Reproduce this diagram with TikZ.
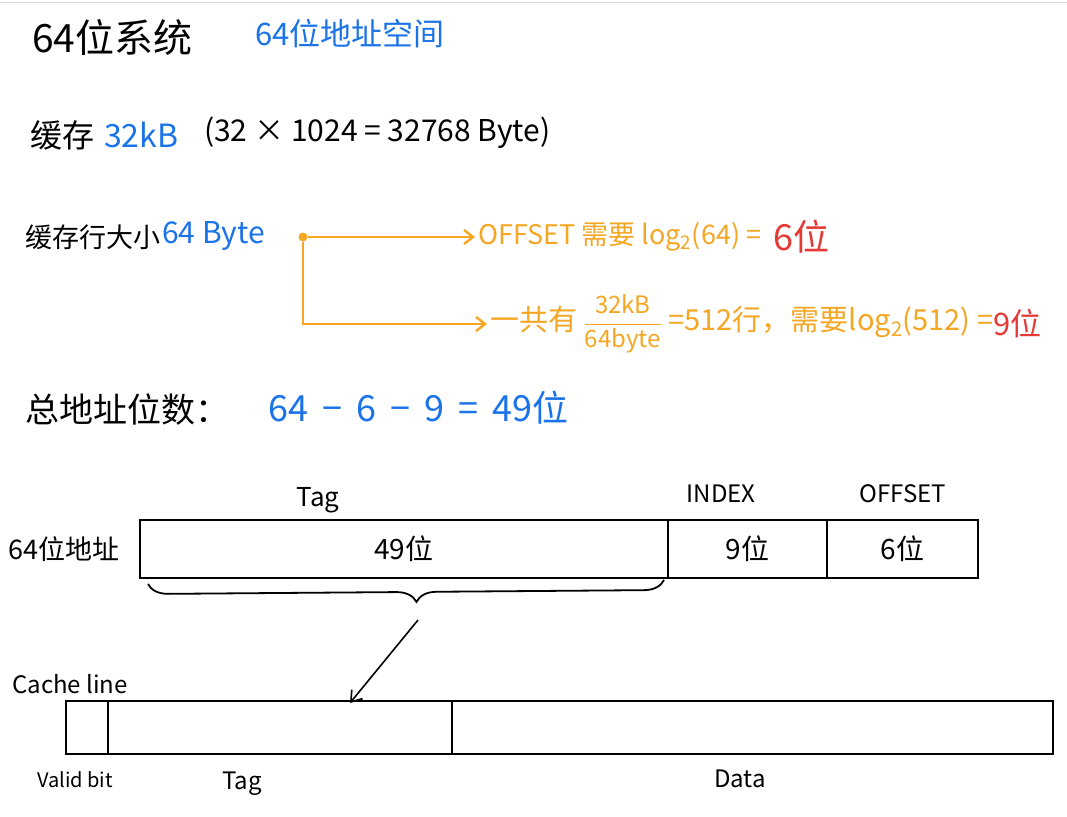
\documentclass[tikz,border=0pt]{standalone}
\usepackage{fontspec}
\setmainfont{Noto Sans CJK SC}
\usetikzlibrary{decorations.pathreplacing,arrows.meta}
\definecolor{hblue}{RGB}{26,115,232}
\definecolor{horange}{RGB}{245,166,35}
\definecolor{hred}{RGB}{229,57,53}
\newcommand{\fs}[1]{\fontsize{#1}{#1}\selectfont}
\tikzset{
  txt/.style={inner sep=0pt, anchor=west},
  fieldbox/.style={draw=black, line width=1.8pt, anchor=north west, inner sep=0pt},
  oline/.style={draw=horange, line width=2.4pt, -{Straight Barb[length=9pt,width=14pt]}, shorten >=3pt},
  karrow/.style={draw=black, line width=1.6pt, -{Straight Barb[length=10pt,width=14pt]}},
}
\begin{document}
\begin{tikzpicture}[x=1pt,y=-1pt]
\useasboundingbox (0,0) rectangle (1067,816);
\fill[white] (0,0) rectangle (1067,816);
\draw[black!15, line width=1pt] (0,3) -- (1067,3);

% title line
\node[txt, font=\fs{39}] (sys) at (32,38) {64位系统};
\node[txt, font=\fs{31}, text=hblue] (space) at (255,34) {64位地址空间};

% cache size
\node[txt, font=\fs{32}] (cache) at (30,135) {缓存};
\node[txt, font=\fs{32}, text=hblue] (ckb) at (104,135) {32kB};
\node[txt, font=\fs{30}] (calc) at (204,133) {(32 × 1024 = 32768 Byte)};

% cache line size
\node[txt, font=\fs{27}] (csz) at (25,237) {缓存行大小};
\node[txt, font=\fs{30}, text=hblue] (cszv) at (162,236) {64 Byte};
\node[circle, fill=horange, inner sep=0pt, minimum size=9pt] (dot) at (303,237) {};

\node[txt, font=\fs{27}, text=horange] (off) at (478,237) {OFFSET 需要 log\textsubscript{2}(64) =};
\node[txt, font=\fs{36}, text=hred] (offv) at ([xshift=12pt]off.east) {6位};

\node[txt, font=\fs{29}, text=horange] (lines) at (490,324)
  {一共有 ${\displaystyle\frac{\mbox{\fs{24}32kB}}{\mbox{\fs{24}64byte}}}$ =512行，需要log\textsubscript{2}(512) =};
\node[txt, font=\fs{31}, text=hred] (linesv) at (lines.east) {9位};

\draw[oline] (dot) -- (off.west);
\draw[oline] (dot) |- (lines.west);

% total bits
\node[txt, font=\fs{34}] (tot) at (25,410) {总地址位数：};
\node[txt, font=\fs{36}, text=hblue] (totv) at (268,408) {64 \,−\, 6 \,−\, 9 \,=\, 49位};

% address layout
\node[fieldbox, minimum width=528pt, minimum height=58pt] (atag) at (139,519) {};
\node[fieldbox, minimum width=159pt, minimum height=58pt] (aidx) at (667,519) {};
\node[fieldbox, minimum width=151pt, minimum height=58pt] (aoff) at (826,519) {};
\node[inner sep=0pt, font=\fs{26}] (ltag) at (318,500) {Tag};
\node[inner sep=0pt, font=\fs{24}] (lidx) at (721,494) {INDEX};
\node[inner sep=0pt, font=\fs{24}] (loff) at (903,494) {OFFSET};
\node[inner sep=0pt, font=\fs{28}] at (atag.center) {49位};
\node[inner sep=0pt, font=\fs{28}] at (aidx.center) {9位};
\node[inner sep=0pt, font=\fs{28}] at (aoff.center) {6位};
\node[txt, font=\fs{27}] (alab) at (8,549) {64位地址};

\coordinate (bl) at (148,584);
\coordinate (br) at (664,580);
\draw[line width=1.8pt, decorate, decoration={brace, mirror, amplitude=20pt, aspect=0.52}] (bl) -- (br);
\coordinate (btip) at (418,620);
\coordinate (atip) at (350,703);

% cache line layout
\node[txt, font=\fs{24}] (clab) at (12,684) {Cache line};
\node[fieldbox, minimum width=42pt, minimum height=53pt] (cval) at (65,700) {};
\node[fieldbox, minimum width=344pt, minimum height=53pt] (ctag) at (107,700) {};
\node[fieldbox, minimum width=601pt, minimum height=53pt] (cdat) at (451,700) {};
\node[txt, font=\fs{20}] (lval) at (37,780) {Valid bit};
\node[txt, font=\fs{24}] (lctag) at (222,784) {Tag};
\node[txt, font=\fs{24}] (ldat) at (714,779) {Data};

\draw[karrow] (btip) -- (atip);
\end{tikzpicture}
\end{document}
